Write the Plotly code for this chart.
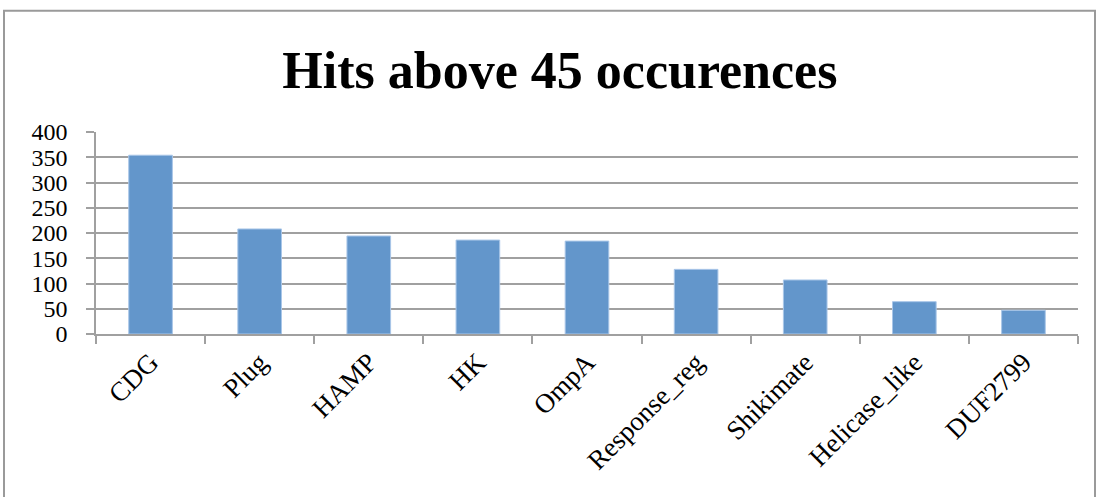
import plotly.graph_objects as go

# Domain families and their hit counts
domains = ["CDG", "Plug", "HAMP", "HK", "OmpA", "Response_reg",
           "Shikimate", "Helicase_like", "DUF2799"]
hits = [354, 208, 194, 186, 184, 128, 107, 64, 47]

W, H = 1100, 497
serif = "Liberation Serif"
grid_gray = "#a0a0a0"

fig = go.Figure(
    go.Bar(
        x=domains,
        y=hits,
        width=0.4,
        marker=dict(color="#6396cb", line=dict(color="#a9c6e8", width=1)),
    )
)

fig.update_layout(
    width=W,
    height=H,
    margin=dict(l=96, r=22, t=132, b=163),
    paper_bgcolor="white",
    plot_bgcolor="white",
    showlegend=False,
    title=dict(
        text="<b>Hits above 45 occurences</b>",
        x=0.509,
        xanchor="center",
        y=1 - 70 / H,
        yanchor="middle",
        yref="container",
        font=dict(family=serif, size=52, color="black"),
    ),
    font=dict(family=serif, color="black"),
    # outer chart frame
    shapes=[
        dict(type="rect", xref="paper", yref="paper",
             x0=-92 / 982, x1=(1095 - 96) / 982,
             y0=-200 / 202.6, y1=(334.3 - 10) / 202.6,
             line=dict(color="#9a9a9a", width=2), fillcolor="rgba(0,0,0,0)",
             layer="below"),
    ],
)

fig.update_xaxes(
    type="category",
    tickson="boundaries",
    ticks="outside",
    ticklen=8,
    tickcolor=grid_gray,
    tickwidth=1.5,
    showline=True,
    linecolor=grid_gray,
    linewidth=1.5,
    showgrid=False,
    tickangle=-45,
    tickfont=dict(family=serif, size=27, color="black"),
)

fig.update_yaxes(
    range=[0, 400],
    tick0=0,
    dtick=50,
    ticks="outside",
    ticklen=8,
    tickcolor=grid_gray,
    tickwidth=1.5,
    showline=True,
    linecolor=grid_gray,
    linewidth=1.5,
    showgrid=True,
    gridcolor=grid_gray,
    gridwidth=1.5,
    zeroline=False,
    ticklabelstandoff=14,
    tickfont=dict(family=serif, size=24, color="black"),
)

fig.write_html("out.html")
